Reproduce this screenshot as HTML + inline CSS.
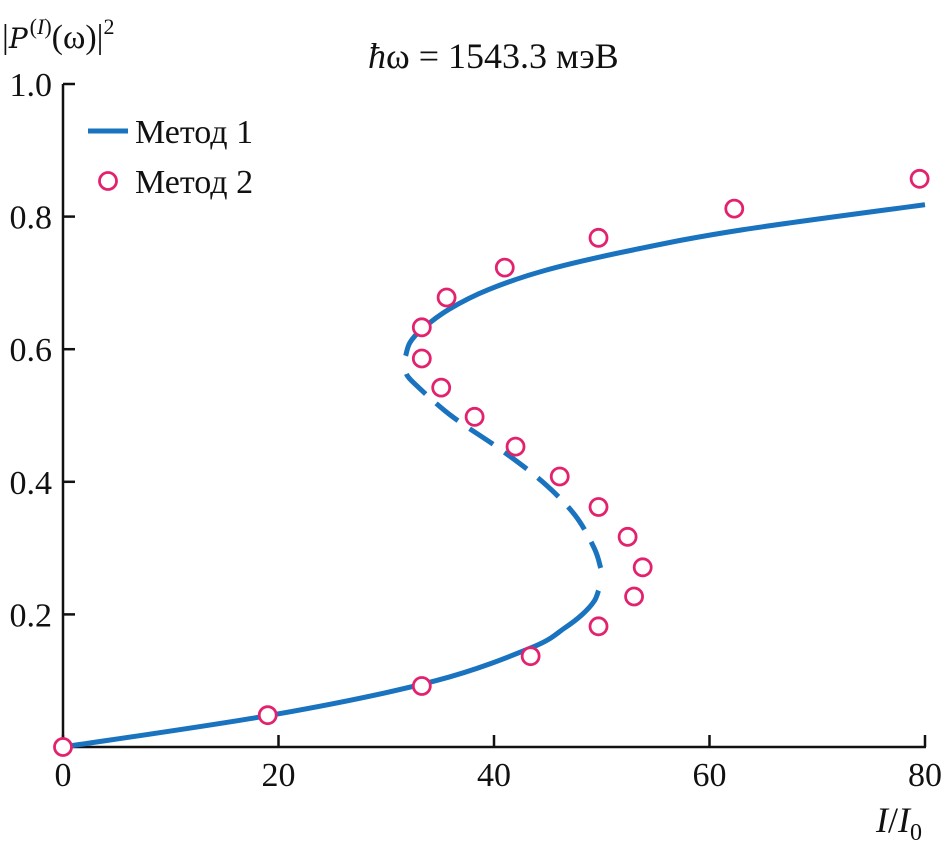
<!DOCTYPE html>
<html><head><meta charset="utf-8"><style>
html,body{margin:0;padding:0;background:#fff;}
svg text{font-family:"Liberation Serif","DejaVu Serif",serif;fill:#111;}
</style></head><body>
<svg width="948" height="848" viewBox="0 0 948 848">
<g id="axes"></g>
<g id="series"></g>
<text x="368" y="68" font-size="36"><tspan font-style="italic">ħ</tspan>ω = 1543.3 мэВ</text>
<text x="2" y="48" font-size="34">|<tspan font-style="italic" font-family="DejaVu Serif, serif" font-size="28">P</tspan><tspan font-size="22" dx="2" dy="-14">(<tspan font-style="italic">I</tspan>)</tspan><tspan dy="14">(ω)|</tspan><tspan font-size="22" dy="-14">2</tspan></text>
<text x="876" y="832" font-size="36"><tspan font-style="italic">I</tspan>/<tspan font-style="italic">I</tspan><tspan font-size="24" dy="8">0</tspan></text>
<g>
<line x1="88" y1="131" x2="128" y2="131" stroke="#1a73bf" stroke-width="5"/>
<text x="135" y="143" font-size="34">Метод 1</text>
<circle cx="108" cy="181" r="8.5" fill="none" stroke="#e3226e" stroke-width="2.8"/>
<text x="135" y="193" font-size="34">Метод 2</text>
</g>
</svg>
<script>
const xTicks=[0,20,40,60,80];
const xTickLabels=["0","20","40","60","80"];
const yTicks=[0.2,0.4,0.6,0.8,1.0];
const yTickLabels=["0.2","0.4","0.6","0.8","1.0"];
const lowerY=[0,0.05,0.1,0.15,0.18,0.2,0.22,0.236];
const lowerX=[0,20,34.6,43.5,46.6,48.2,49.3,49.7];
const dashY=[0.27,0.3,0.35,0.4,0.45,0.5,0.55,0.565];
const dashX=[49.9,49.3,47.5,44.5,40.5,36,32.5,31.8];
const upperY=[0.59,0.61,0.63,0.66,0.69,0.72,0.75,0.78,0.818];
const upperX=[31.8,32.2,33.3,35.8,39.5,45,53,63,80];
const ptX=[0,19,33.3,43.4,49.7,53,53.8,52.4,49.7,46.1,42,38.2,35.1,33.3,33.3,35.6,41,49.7,62.3,79.5];
const ptY=[0,0.048,0.092,0.137,0.182,0.227,0.271,0.317,0.362,0.408,0.453,0.498,0.542,0.586,0.633,0.678,0.723,0.768,0.812,0.857];
const NS="http://www.w3.org/2000/svg";
const sx=v=>63+v*(862/80);
const sy=v=>747-v*663;
const axes=document.getElementById('axes');
const ser=document.getElementById('series');
function mk(tag,attrs,parent){const e=document.createElementNS(NS,tag);for(const k in attrs)e.setAttribute(k,attrs[k]);parent.appendChild(e);return e;}
let a=mk('line',{x1:63,y1:84,x2:63,y2:747,stroke:'#111','stroke-width':2.5},axes);


a=mk('line',{x1:63,y1:747,x2:926,y2:747,stroke:'#111','stroke-width':2.5},axes);


xTicks.forEach((t,i)=>{
 const l=mk('line',{x1:sx(t),y1:747,x2:sx(t),y2:735,stroke:'#111','stroke-width':2.5},axes);
 
 
 const tx=mk('text',{x:sx(t),y:786,'font-size':34,'text-anchor':'middle'},axes);
 tx.textContent=xTickLabels[i];
 
 
});
yTicks.forEach((t,i)=>{
 const l=mk('line',{x1:63,y1:sy(t),x2:75,y2:sy(t),stroke:'#111','stroke-width':2.5},axes);
 
 
 const tx=mk('text',{x:52,y:sy(t)+12,'font-size':34,'text-anchor':'end'},axes);
 tx.textContent=yTickLabels[i];
 
 
});
function path(xs,ys){
 const p=xs.map((x,i)=>[sx(x),sy(ys[i])]);
 let d='M'+p[0][0]+','+p[0][1];
 for(let i=0;i<p.length-1;i++){
  const p0=p[Math.max(i-1,0)],p1=p[i],p2=p[i+1],p3=p[Math.min(i+2,p.length-1)];
  const c1=[p1[0]+(p2[0]-p0[0])/6,p1[1]+(p2[1]-p0[1])/6];
  const c2=[p2[0]-(p3[0]-p1[0])/6,p2[1]-(p3[1]-p1[1])/6];
  d+=' C'+c1[0]+','+c1[1]+' '+c2[0]+','+c2[1]+' '+p2[0]+','+p2[1];
 }
 return d;
}
let c=mk('path',{d:path(lowerX,lowerY),fill:'none',stroke:'#1a73bf','stroke-width':5},ser);


c=mk('path',{d:path(dashX,dashY),fill:'none',stroke:'#1a73bf','stroke-width':5,'stroke-dasharray':'28 14'},ser);


c=mk('path',{d:path(upperX,upperY),fill:'none',stroke:'#1a73bf','stroke-width':5},ser);


ptX.forEach((x,i)=>{
 const m=mk('circle',{cx:sx(x),cy:sy(ptY[i]),r:8.5,fill:'#fff',stroke:'#e3226e','stroke-width':2.8},ser);
 
 
});
</script>
</body></html>
